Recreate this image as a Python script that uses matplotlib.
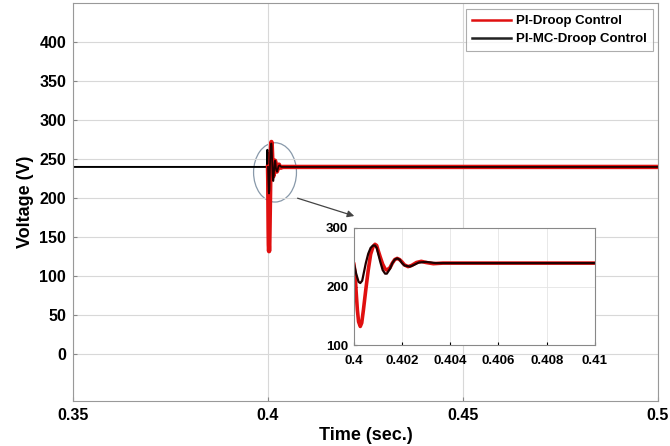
import numpy as np
import matplotlib.pyplot as plt
from matplotlib.patches import Ellipse

plt.rcParams['font.family'] = ['Liberation Sans', 'DejaVu Sans']
plt.rcParams['font.weight'] = 'bold'

# PI-Droop control (red)
t_red = [0.35, 0.4, 0.40005, 0.4001, 0.40015, 0.4002, 0.40027, 0.40033, 0.4004, 0.4005,
         0.4006, 0.4007, 0.4008, 0.40088, 0.40095, 0.4010, 0.4011, 0.4012, 0.4013, 0.40137,
         0.4015, 0.4016, 0.4017, 0.4018, 0.4019, 0.4020, 0.4021, 0.40225, 0.4024, 0.4026,
         0.4028, 0.4030, 0.4033, 0.4037, 0.5]
v_red = [240, 240, 225, 190, 160, 140, 132, 138, 160, 195,
         228, 255, 268, 272, 270, 263, 250, 238, 230, 228,
         232, 240, 246, 248, 246, 242, 237, 234, 236, 241,
         243, 241, 239, 240, 240]

# PI-MC-Droop control (black)
t_blk = [0.35, 0.3998, 0.39985, 0.3999, 0.39995, 0.4, 0.4001, 0.4002, 0.40027, 0.40035,
         0.4004, 0.4005, 0.4006, 0.4007, 0.4008, 0.40088, 0.40095, 0.4010, 0.4011, 0.4012,
         0.4013, 0.40137, 0.4015, 0.4016, 0.4017, 0.4018, 0.4019, 0.4020, 0.4021, 0.40233,
         0.4025, 0.4027, 0.4030, 0.4034, 0.5]
v_blk = [240, 240, 262, 218, 258, 240, 222, 208, 206, 210,
         220, 240, 256, 266, 270, 270, 266, 258, 242, 228,
         222, 222, 230, 240, 246, 248, 246, 240, 236, 234,
         237, 241, 242, 240, 240]

x_ticks = [0.35, 0.4, 0.45, 0.5]
y_ticks = [0, 50, 100, 150, 200, 250, 300, 350, 400]
ins_x_ticks = [0.4, 0.402, 0.404, 0.406, 0.408, 0.41]
ins_y_ticks = [100, 200, 300]

red = '#e01010'
fig = plt.figure(figsize=(6.7, 4.46), dpi=100)
ax = fig.add_axes([0.109, 0.101, 0.873, 0.892])
# red shown from the step at 0.4 onward, black on top of it
ax.plot(t_blk[:6], v_blk[:6], color='black', lw=1.4)
ax.plot(t_red[1:], v_red[1:], color=red, lw=3.2)
ax.plot(t_blk[5:], v_blk[5:], color='#200000', lw=1.3)
ax.plot([], [], color=red, lw=1.8, label='PI-Droop Control')
ax.plot([], [], color='#222222', lw=1.8, label='PI-MC-Droop Control')
ax.set_xlim(0.35, 0.5)
ax.set_ylim(-60, 450)
ax.set_xticks(x_ticks)
ax.set_xticklabels(['0.35', '0.4', '0.45', '0.5'])
ax.set_yticks(y_ticks)
ax.grid(True, color='#d8d8d8', lw=0.8)
ax.tick_params(direction='in', length=3, labelsize=11.5, color='#888888', pad=5)
for s in ax.spines.values():
    s.set_color('#999999')
ax.set_xlabel('Time (sec.)', fontsize=13, fontweight='bold', labelpad=3)
ax.set_ylabel('Voltage (V)', fontsize=13, fontweight='bold', labelpad=4)
leg = ax.legend(loc='upper right', bbox_to_anchor=(0.992, 0.985), borderaxespad=0,
                fontsize=9.5, frameon=True, fancybox=False, handlelength=3.0,
                handletextpad=0.4, labelspacing=0.45, borderpad=0.45, edgecolor='#999999')
leg.get_frame().set_linewidth(0.8)

ax.add_patch(Ellipse((0.4018, 233), 0.011, 76, fill=False, ec='#8899aa', lw=0.9))
ax.annotate('', xy=(0.4228, 176), xytext=(0.4069, 201),
            arrowprops=dict(arrowstyle='-|>', color='#444444', lw=0.9, mutation_scale=10))

ins = fig.add_axes([0.528, 0.226, 0.36, 0.263])
ins.plot(t_red, v_red, color=red, lw=2.6)
ins.plot(t_blk, v_blk, color='#200000', lw=1.6)
ins.set_xlim(0.4, 0.41)
ins.set_ylim(100, 300)
ins.set_xticks(ins_x_ticks)
ins.set_xticklabels(['0.4', '0.402', '0.404', '0.406', '0.408', '0.41'])
ins.set_yticks(ins_y_ticks)
ins.grid(True, color='#e4e4e4', lw=0.6)
ins.tick_params(direction='in', length=2, labelsize=9.5, pad=7)
ins.tick_params(axis='y', pad=4)
for s in ins.spines.values():
    s.set_color('#888888')

fig.savefig('out.png', dpi=100)
